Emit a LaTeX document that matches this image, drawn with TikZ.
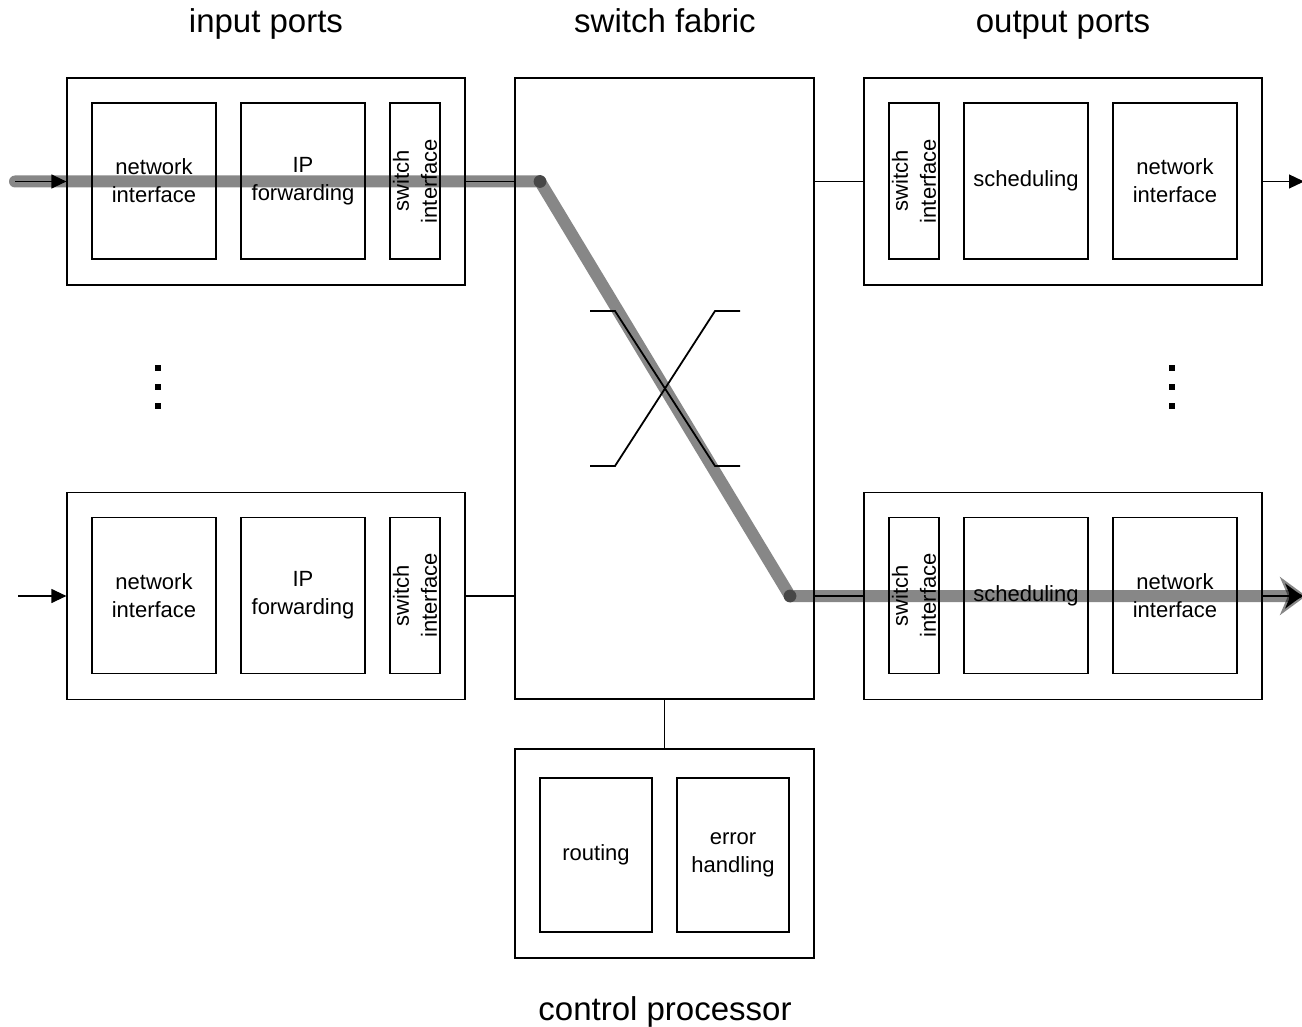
\documentclass[tikz,border=0pt]{standalone}
\usepackage{fontspec}
\setmainfont{Liberation Sans}
\usetikzlibrary{arrows.meta,positioning,calc}

\tikzset{
  wire/.style={line width=0.6pt},
  portbox/.style={draw, line width=0.6pt, inner sep=0pt, minimum width=199pt, minimum height=103.5pt},
  unitbox/.style={draw, line width=0.6pt, inner sep=0pt, align=center, minimum width=62pt, minimum height=78pt, font=\fontsize{11}{14}\selectfont},
  ifacebox/.style={unitbox, rotate=90, minimum width=78pt, minimum height=25pt},
  ctrlunit/.style={unitbox, minimum width=56pt, minimum height=77pt},
  heading/.style={anchor=base, font=\fontsize{16.5}{20}\selectfont},
  flowpath/.style={line width=6pt, draw opacity=0.47, line cap=round, line join=round},
  inarrow/.style={wire, -{Triangle[length=7.5pt, width=7pt]}}
}

\begin{document}
\begin{tikzpicture}[x=0.5pt, y=-0.5pt]
\useasboundingbox (0,0) rectangle (1302,1027);

% Headings
\node[heading] (tin) at (266,33) {input ports};
\node[heading] (tfab) at (665,33) {switch fabric};
\node[heading] (tout) at (1063,33) {output ports};
\node[heading] (tctrl) at (665,1020) {control processor};

% Input ports
\node[portbox] (inA) at (266,181.5) {};
\node[unitbox] (netA) at (154,181) {network\\interface};
\node[unitbox] (fwdA) at (303,181) {IP\\forwarding};
\node[ifacebox] (swA) at (415,181) {switch\\interface};

\node[portbox] (inB) at (266,596) {};
\node[unitbox] (netB) at (154,595.5) {network\\interface};
\node[unitbox] (fwdB) at (303,595.5) {IP\\forwarding};
\node[ifacebox] (swB) at (415,595.5) {switch\\interface};

% Switch fabric
\node[portbox, minimum width=149.5pt, minimum height=310.5pt] (fabric) at (664.5,388.5) {};
\draw[line width=0.9pt] (590,311) -- (615,311) -- (715,466) -- (740,466);
\draw[line width=0.9pt] (590,466) -- (615,466) -- (715,311) -- (740,311);

% Output ports
\node[portbox] (outA) at (1063,181.5) {};
\node[ifacebox] (swOA) at (914,181) {switch\\interface};
\node[unitbox] (schA) at (1026,181) {scheduling};
\node[unitbox] (netOA) at (1175,181) {network\\interface};

\node[portbox] (outB) at (1063,596) {};
\node[ifacebox] (swOB) at (914,595.5) {switch\\interface};
\node[unitbox] (schB) at (1026,595.5) {scheduling};
\node[unitbox] (netOB) at (1175,595.5) {network\\interface};

% Control processor
\node[portbox, minimum width=149.5pt, minimum height=104.5pt] (ctrl) at (664.5,853.5) {};
\node[ctrlunit] (route) at (596,855) {routing};
\node[ctrlunit] (err) at (733,855) {error\\handling};

% Dots
\foreach \x in {158,1172}
  \foreach \y in {368,387,406}
    \fill (\x-3,\y-3) rectangle ++(6,6);

% Connections
\coordinate (srcA) at (15,181.5);
\coordinate (srcB) at (18,596);
\coordinate (sinkA) at (1304,181.5);
\coordinate (sinkB) at (1304,596);
\draw[inarrow] (srcA) -- (inA.west);
\draw[inarrow] (srcB) -- (inB.west);
\draw[inarrow] (outA.east) -- (sinkA);
\draw[inarrow] (outB.east) -- (sinkB);
\draw[wire] (inA.east) -- (inA.east -| fabric.west);
\draw[wire] (inB.east) -- (inB.east -| fabric.west);
\draw[wire] (fabric.east |- outA.west) -- (outA.west);
\draw[wire] (fabric.east |- outB.west) -- (outB.west);
\draw[wire] (fabric.south) -- (ctrl.north);

% Packet path
\coordinate (hopA) at (540,181.5);
\coordinate (hopB) at (790,596);
\coordinate (endB) at (1306,596);
\draw[flowpath, -{Stealth[length=13pt, width=19pt, inset=4pt]}] (srcA) -- (hopA) -- (hopB) -- (endB);
\fill[black!72] (hopA) circle (3.2pt);
\fill[black!72] (hopB) circle (3.2pt);

\end{tikzpicture}
\end{document}
